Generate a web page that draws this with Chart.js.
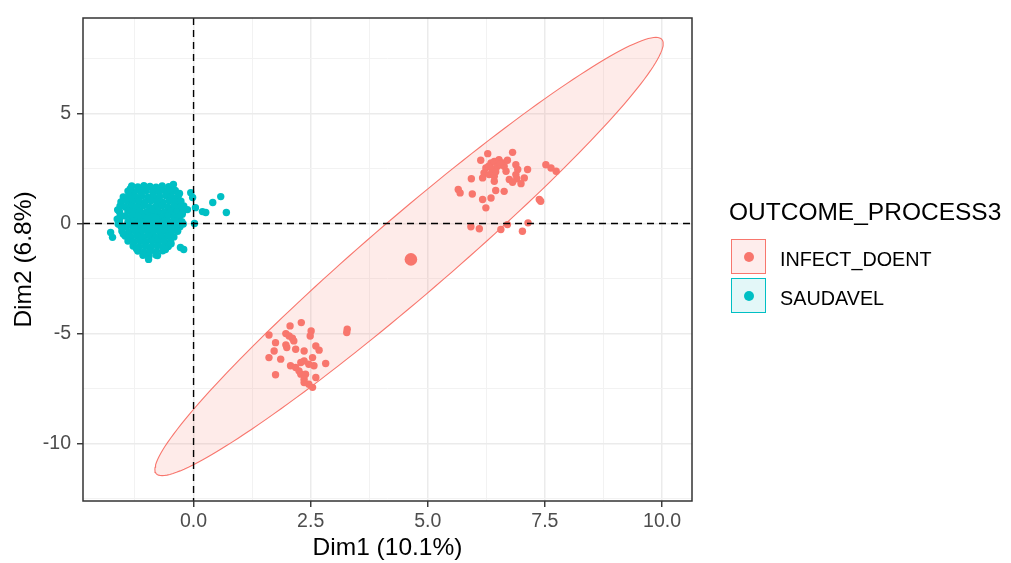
<!DOCTYPE html>
<html>
<head>
<meta charset="utf-8">
<script src="https://cdn.jsdelivr.net/npm/chart.js@4.4.1/dist/chart.umd.min.js"></script>
<style>
  body { margin: 0; background: #fff; font-family: "Liberation Sans", Arial, sans-serif; }
  #wrap { position: relative; width: 1011px; height: 563px; }
  #myChart { position: absolute; left: 0; top: 0; }
  .lg { position: absolute; line-height: 1; color: #000; white-space: nowrap; }
  .key { position: absolute; width: 33px; height: 33px; box-sizing: content-box; }
  .dot { position: absolute; width: 10px; height: 10px; border-radius: 50%; left: 11.5px; top: 11.5px; }
</style>
</head>
<body>
<div id="wrap">
  <canvas id="myChart" width="1011" height="563"></canvas>
  <div class="lg" style="left:729px; top:200px; font-size:24.5px;">OUTCOME_PROCESS3</div>
  <div class="key" style="left:731px; top:239px; border:1.5px solid #F8766D; background:#FEEDEC;"><div class="dot" style="background:#F8766D;"></div></div>
  <div class="lg" style="left:780px; top:250px; font-size:19.8px;">INFECT_DOENT</div>
  <div class="key" style="left:731px; top:278px; border:1.5px solid #00BFC4; background:#E3F7F8;"><div class="dot" style="background:#00BFC4;"></div></div>
  <div class="lg" style="left:780px; top:289px; font-size:19.8px;">SAUDAVEL</div>
</div>
<script>
var FONT = '"Liberation Sans", Arial, sans-serif';

// axis ticks
var xMajor = [0, 2.5, 5, 7.5, 10];
var xMinor = [-1.25, 1.25, 3.75, 6.25, 8.75];
var yMajor = [-10, -5, 0, 5];
var yMinor = [-12.5, -7.5, -2.5, 2.5, 7.5];

// individuals, INFECT_DOENT (Dim1, Dim2)
var infectPts = [
  [6.28, 3.17], [6.81, 3.23], [6.13, 2.87], [6.35, 2.75], [6.42, 2.82], [6.52, 2.90],
  [6.60, 2.75], [6.70, 2.87], [6.24, 2.52], [6.38, 2.45], [6.49, 2.60], [6.63, 2.60],
  [6.88, 2.67], [6.92, 2.45], [6.20, 2.30], [6.31, 2.22], [6.42, 2.14], [6.17, 2.07],
  [6.42, 1.92], [6.67, 2.37], [6.88, 2.22], [6.90, 2.03], [7.13, 2.45], [7.06, 2.07],
  [6.74, 2.00], [6.81, 1.87], [6.99, 1.81], [5.93, 2.03], [5.65, 1.54], [5.69, 1.39],
  [5.95, 1.34], [6.45, 1.50], [6.63, 1.46], [6.17, 1.09], [6.35, 1.16], [6.24, 0.71],
  [7.52, 2.67], [7.63, 2.52], [7.74, 2.37], [7.38, 1.09], [7.41, 1.01], [5.92, -0.15],
  [6.10, -0.24], [6.56, -0.27], [6.70, -0.05], [7.14, 0.03], [7.02, -0.35], [6.55, 2.70],
  [6.30, 2.60], [6.45, 2.35],
  [2.06, -4.65], [2.30, -4.50], [1.61, -5.06], [1.97, -5.00], [2.04, -5.11], [2.11, -5.21],
  [2.14, -5.33], [2.51, -4.88], [2.49, -5.11], [3.28, -4.80], [3.27, -4.95], [1.75, -5.41],
  [1.97, -5.51], [1.99, -5.63], [2.18, -5.71], [2.36, -5.79], [2.61, -5.56], [2.68, -5.75],
  [1.72, -5.79], [1.61, -6.09], [1.86, -6.16], [2.54, -6.09], [2.82, -6.36], [2.07, -6.46],
  [2.18, -6.54], [2.29, -6.31], [2.36, -6.24], [2.46, -6.39], [2.57, -6.46], [2.25, -6.69],
  [2.29, -6.84], [2.39, -6.84], [2.36, -7.07], [1.75, -6.87], [2.46, -7.30], [2.54, -7.44],
  [2.36, -7.22], [2.61, -6.99]
];

// individuals, SAUDAVEL (Dim1, Dim2)
var saudavelPts = [
  [-1.32, 1.70], [-1.19, 1.66], [-1.06, 1.72], [-0.93, 1.68], [-0.80, 1.65], [-0.67, 1.71], [-0.53, 1.67],
  [-1.40, 1.47], [-1.27, 1.43], [-1.14, 1.46], [-1.01, 1.49], [-0.87, 1.42], [-0.74, 1.45], [-0.61, 1.48], [-0.48, 1.44], [-0.39, 1.50],
  [-1.50, 1.20], [-1.37, 1.24], [-1.24, 1.21], [-1.11, 1.25], [-0.98, 1.19], [-0.85, 1.23], [-0.72, 1.22], [-0.59, 1.26], [-0.46, 1.20], [-0.33, 1.23],
  [-1.55, 0.98], [-1.42, 1.02], [-1.30, 0.99], [-1.17, 1.01], [-1.04, 0.97], [-0.91, 1.03], [-0.78, 1.00], [-0.65, 0.96], [-0.52, 1.02], [-0.39, 0.99], [-0.27, 1.01],
  [-1.57, 0.79], [-1.46, 0.75], [-1.33, 0.78], [-1.20, 0.76], [-1.07, 0.80], [-0.94, 0.74], [-0.81, 0.77], [-0.68, 0.79], [-0.55, 0.75], [-0.42, 0.78], [-0.29, 0.76], [-0.21, 0.80],
  [-1.58, 0.52], [-1.40, 0.56], [-1.27, 0.53], [-1.14, 0.55], [-1.01, 0.51], [-0.88, 0.57], [-0.75, 0.54], [-0.62, 0.52], [-0.49, 0.56], [-0.36, 0.53], [-0.23, 0.55],
  [-1.57, 0.30], [-1.46, 0.34], [-1.33, 0.31], [-1.20, 0.33], [-1.07, 0.29], [-0.94, 0.35], [-0.81, 0.32], [-0.68, 0.30], [-0.55, 0.34], [-0.42, 0.31], [-0.30, 0.33],
  [-1.58, 0.11], [-1.40, 0.07], [-1.27, 0.10], [-1.14, 0.08], [-1.01, 0.12], [-0.88, 0.06], [-0.75, 0.09], [-0.62, 0.11], [-0.49, 0.07], [-0.36, 0.10], [-0.25, 0.08],
  [-1.55, -0.12], [-1.44, -0.16], [-1.31, -0.13], [-1.18, -0.15], [-1.05, -0.11], [-0.92, -0.17], [-0.79, -0.14], [-0.66, -0.12], [-0.53, -0.16], [-0.40, -0.13], [-0.29, -0.15],
  [-1.53, -0.34], [-1.38, -0.38], [-1.25, -0.35], [-1.12, -0.37], [-0.99, -0.33], [-0.86, -0.39], [-0.73, -0.36], [-0.60, -0.34], [-0.47, -0.38], [-0.34, -0.35],
  [-1.46, -0.57], [-1.33, -0.61], [-1.20, -0.58], [-1.07, -0.60], [-0.94, -0.56], [-0.81, -0.62], [-0.68, -0.59], [-0.55, -0.57], [-0.42, -0.61],
  [-1.40, -0.80], [-1.27, -0.84], [-1.14, -0.81], [-1.01, -0.83], [-0.88, -0.79], [-0.75, -0.85], [-0.62, -0.82], [-0.49, -0.80],
  [-1.29, -1.02], [-1.16, -1.06], [-1.03, -1.03], [-0.90, -1.05], [-0.77, -1.01], [-0.64, -1.07], [-0.54, -1.04],
  [-1.19, -1.25], [-1.06, -1.29], [-0.93, -1.26], [-0.80, -1.28], [-0.66, -1.24],
  [-1.08, -1.44], [-0.95, -1.47], [-0.80, -1.43],
  [-1.62, 0.62], [-1.63, 0.20], [-1.61, -0.02], [-1.35, 1.58], [-0.50, 1.58], [-0.30, 1.36],
  [-0.24, 0.42], [-0.22, -0.02], [-1.50, -0.48], [-0.48, -0.92], [-1.22, -1.15], [-0.60, -1.18],
  [-1.77, -0.41], [-1.73, -0.63], [-0.43, 1.77], [-0.06, 1.40], [-0.02, 1.18], [0.04, 0.72],
  [0.19, 0.54], [0.26, 0.50], [0.41, 0.95], [0.58, 1.22], [0.70, 0.50], [0.02, 0.00],
  [-0.28, -1.09], [-0.21, -1.18], [-0.96, -1.63], [-0.77, -1.45], [-0.13, 0.63]
];

// group means (big points)
var infectMean = [4.64, -1.63];
var saudavelMean = [-0.85, 0.18];

// concentration ellipse of INFECT_DOENT: centre and two conjugate half-axes
var ellCenter = [4.6, -1.5];
var ellAxisA = [5.27, 9.95];
var ellAxisB = [1.29, 0];

var ellipsePts = [];
for (var i = 0; i <= 180; i++) {
  var t = i / 180 * 2 * Math.PI;
  ellipsePts.push({
    x: ellCenter[0] + ellAxisA[0] * Math.cos(t) + ellAxisB[0] * Math.sin(t),
    y: ellCenter[1] + ellAxisA[1] * Math.cos(t) + ellAxisB[1] * Math.sin(t)
  });
}

function toXY(arr) {
  return arr.map(function (p) { return { x: p[0], y: p[1] }; });
}

var xTicks = xMinor.concat(xMajor).sort(function (a, b) { return a - b; });
var yTicks = yMinor.concat(yMajor).sort(function (a, b) { return a - b; });

// panel border + dashed zero lines
var panelPlugin = {
  id: "panel",
  afterDatasetsDraw: function (chart) {
    var c = chart.ctx, a = chart.chartArea;
    var x0 = chart.scales.x.getPixelForValue(0);
    var y0 = chart.scales.y.getPixelForValue(0);
    c.save();
    c.strokeStyle = "#000";
    c.lineWidth = 1.4;
    c.setLineDash([7, 5]);
    c.beginPath();
    c.moveTo(a.left, y0); c.lineTo(a.right, y0);
    c.moveTo(x0, a.top); c.lineTo(x0, a.bottom);
    c.stroke();
    c.setLineDash([]);
    c.strokeStyle = "#333333";
    c.lineWidth = 1.5;
    c.strokeRect(a.left, a.top, a.right - a.left, a.bottom - a.top);
    c.restore();
  }
};

function gridColor(major) {
  return function (ctx) {
    if (!ctx.tick) return "#EBEBEB";
    return major.indexOf(ctx.tick.value) >= 0 ? "#EBEBEB" : "#F2F2F2";
  };
}
function gridWidth(major) {
  return function (ctx) {
    if (!ctx.tick) return 1;
    return major.indexOf(ctx.tick.value) >= 0 ? 1.5 : 1;
  };
}
function tickColor(major) {
  return function (ctx) {
    if (!ctx.tick) return "#333333";
    return major.indexOf(ctx.tick.value) >= 0 ? "#333333" : "rgba(0,0,0,0)";
  };
}

var ctx = document.getElementById("myChart").getContext("2d");

var myChart = new Chart(ctx, {
  type: "scatter",
  data: {
    datasets: [
      {
        label: "INFECT_DOENT mean",
        data: toXY([infectMean]),
        backgroundColor: "#F8766D",
        pointRadius: 6.3,
        borderWidth: 0
      },
      {
        label: "SAUDAVEL mean",
        data: toXY([saudavelMean]),
        backgroundColor: "#00BFC4",
        pointRadius: 6.3,
        borderWidth: 0
      },
      {
        label: "INFECT_DOENT",
        data: toXY(infectPts),
        backgroundColor: "#F8766D",
        pointRadius: 3.7,
        borderWidth: 0
      },
      {
        label: "SAUDAVEL",
        data: toXY(saudavelPts),
        backgroundColor: "#00BFC4",
        pointRadius: 3.7,
        borderWidth: 0
      },
      {
        type: "line",
        label: "ellipse",
        data: ellipsePts,
        borderColor: "#F8766D",
        borderWidth: 1.1,
        backgroundColor: "rgba(248,118,109,0.15)",
        fill: "shape",
        pointRadius: 0,
        tension: 0
      }
    ]
  },
  options: {
    responsive: false,
    animation: false,
    devicePixelRatio: 1,
    layout: { padding: { left: 0, top: 18, right: 319, bottom: 0 } },
    plugins: {
      legend: { display: false },
      tooltip: { enabled: false }
    },
    scales: {
      x: {
        type: "linear",
        min: -2.36,
        max: 10.64,
        afterBuildTicks: function (s) {
          s.ticks = xTicks.map(function (v) { return { value: v }; });
        },
        afterFit: function (s) { s.height = 62; },
        border: { display: false },
        grid: {
          color: gridColor(xMajor),
          lineWidth: gridWidth(xMajor),
          tickColor: tickColor(xMajor),
          tickLength: 6,
          tickWidth: 1.4
        },
        ticks: {
          autoSkip: false,
          maxRotation: 0,
          padding: 3,
          color: "#4D4D4D",
          font: { family: FONT, size: 19.5 },
          callback: function (v) { return xMajor.indexOf(v) >= 0 ? v.toFixed(1) : ""; }
        },
        title: {
          display: true,
          text: "Dim1 (10.1%)",
          color: "#000",
          font: { family: FONT, size: 24.5 },
          padding: { top: 0, bottom: 0 }
        }
      },
      y: {
        type: "linear",
        min: -12.6,
        max: 9.33,
        afterBuildTicks: function (s) {
          s.ticks = yTicks.map(function (v) { return { value: v }; });
        },
        afterFit: function (s) { s.width = 83; },
        border: { display: false },
        grid: {
          color: gridColor(yMajor),
          lineWidth: gridWidth(yMajor),
          tickColor: tickColor(yMajor),
          tickLength: 6,
          tickWidth: 1.4
        },
        ticks: {
          autoSkip: false,
          padding: 6,
          color: "#4D4D4D",
          font: { family: FONT, size: 19.5 },
          callback: function (v) { return yMajor.indexOf(v) >= 0 ? String(v) : ""; }
        },
        title: {
          display: true,
          text: "Dim2 (6.8%)",
          color: "#000",
          font: { family: FONT, size: 24.5 },
          padding: { top: 10, bottom: 0 }
        }
      }
    }
  },
  plugins: [panelPlugin]
});
</script>
</body>
</html>
